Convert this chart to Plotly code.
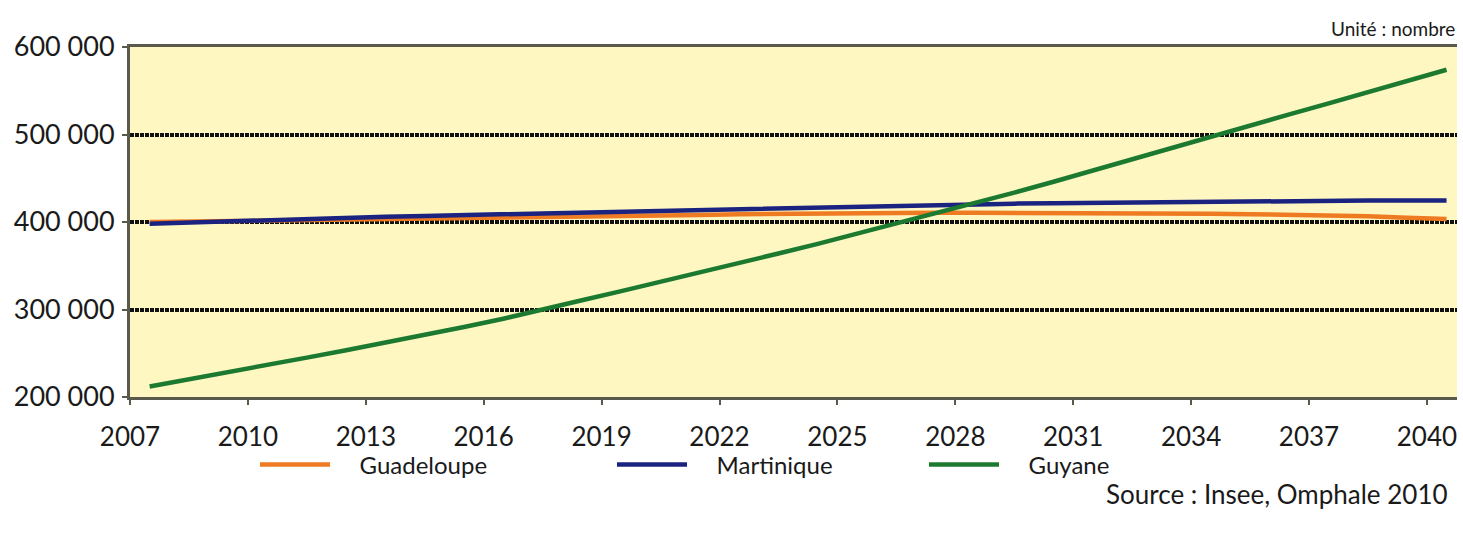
import plotly.graph_objects as go

years = list(range(2007, 2041))

guadeloupe = [400000, 400500, 401000, 401500, 402000, 402500, 403000, 403500, 404000, 404500,
              405000, 405500, 406000, 407000, 408000, 409000, 409500, 410000, 410000, 410500,
              410500, 410500, 410500, 410500, 410500, 410000, 410000, 409500, 409000, 408500,
              407500, 406500, 405000, 403500]

martinique = [398000, 399500, 401000, 402500, 404000, 405000, 406000, 407000, 408000, 409000,
              410000, 410500, 411500, 412500, 413500, 414500, 415500, 416500, 417500, 418500,
              419500, 420500, 421000, 421500, 422000, 422500, 423000, 423500, 424000, 424000,
              424500, 424500, 424500, 424500]

guyane = [212000, 220000, 228000, 236500, 245000, 253500, 262000, 271000, 280000, 289500,
          299500, 310500, 321000, 331500, 342000, 353000, 364000, 375000, 386500, 398000,
          409500, 421000, 433500, 446000, 459000, 472000, 485000, 498000, 510500, 523000,
          535500, 548000, 561000, 574000]

tick_years = [2007, 2010, 2013, 2016, 2019, 2022, 2025, 2028, 2031, 2034, 2037, 2040]
y_ticks = [200000, 300000, 400000, 500000, 600000]
y_tick_text = ["200 000", "300 000", "400 000", "500 000", "600 000"]

names = ["Guadeloupe", "Martinique", "Guyane"]
series = [guadeloupe, martinique, guyane]
colors = ["#EE7A22", "#1B2380", "#1C7A30"]

FONT = "Lato"
GAP = "\u00a0\u00a0\u00a0\u00a0"

W, H = 1463, 534
L, R, T, B = 130, 6, 47, 137
pw = W - L - R
ph = H - T - B


def px_x(p):
    return (p - L) / pw


def px_y(p):
    return (H - B - p) / ph


legend_names = ["legend", "legend2", "legend3"]
legend_x = [263, 620, 932]

fig = go.Figure()
for name, vals, col, lg in zip(names, series, colors, legend_names):
    fig.add_trace(go.Scatter(
        x=years, y=vals, mode="lines", name=GAP + name,
        line=dict(color=col, width=4.5),
        legend=lg,
    ))

legend_common = dict(
    orientation="h", yanchor="middle", xanchor="left",
    bgcolor="rgba(0,0,0,0)", borderwidth=0,
    font=dict(family=FONT, size=24, color="#1a1a1a"),
    itemwidth=70,
)

layout_kwargs = {}
for lg, lx in zip(legend_names, legend_x):
    layout_kwargs[lg] = dict(legend_common, x=px_x(lx - 8), y=px_y(465))

fig.update_layout(
    width=W, height=H,
    margin=dict(l=L, r=R, t=T, b=B),
    paper_bgcolor="white",
    plot_bgcolor="#FFF7C2",
    showlegend=True,
    font=dict(family=FONT, size=26, color="#1a1a1a"),
    **layout_kwargs,
)

fig.update_xaxes(
    range=[2006.5, 2006.5 + pw / 39.3],
    tickvals=[y - 0.5 for y in tick_years],
    ticktext=[str(y) for y in tick_years],
    showgrid=False, zeroline=False,
    showline=True, linecolor="#5A5A4C", linewidth=3, mirror=True,
    ticks="outside", ticklen=5, tickwidth=2, tickcolor="#5A5A4C",
    ticklabelstandoff=10,
    tickfont=dict(family=FONT, size=26, color="#1a1a1a"),
)

fig.update_yaxes(
    range=[200000, 600000],
    tickvals=y_ticks, ticktext=y_tick_text,
    showgrid=True, gridcolor="#111111", gridwidth=3.5, griddash="4px,1px",
    zeroline=False,
    showline=True, linecolor="#5A5A4C", linewidth=3,
    ticks="outside", ticklen=5, tickwidth=2, tickcolor="#5A5A4C",
    ticklabelstandoff=2,
    tickfont=dict(family=FONT, size=27, color="#1a1a1a"),
)

fig.add_annotation(
    text="Unité : nombre", xref="paper", yref="paper",
    x=1.0, y=px_y(28), xanchor="right", yanchor="middle",
    showarrow=False, font=dict(family=FONT, size=19, color="#1a1a1a"),
)
fig.add_annotation(
    text="Source : Insee, Omphale 2010", xref="paper", yref="paper",
    x=px_x(1450), y=px_y(494), xanchor="right", yanchor="middle",
    showarrow=False, font=dict(family=FONT, size=26, color="#1a1a1a"),
)

fig.write_html("out.html")
